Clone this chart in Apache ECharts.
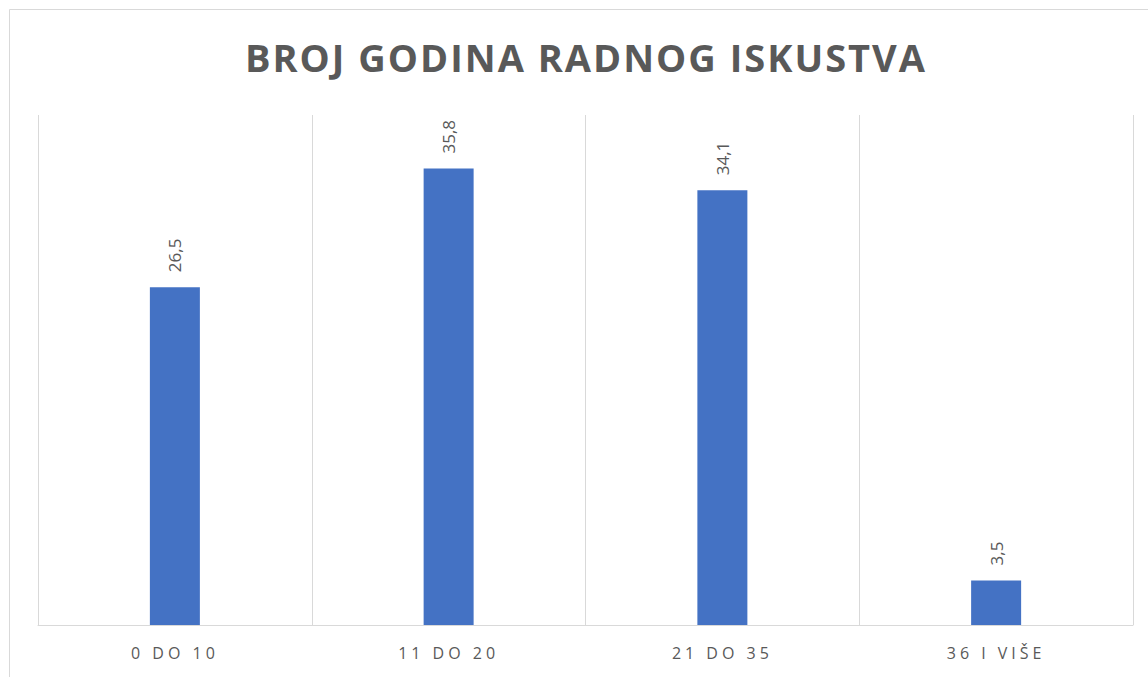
<!DOCTYPE html>
<html>
<head>
<meta charset="utf-8">
<style>
  html, body { margin: 0; padding: 0; background: #fff; }
  #chart { width: 1148px; height: 677px; }
  #chart svg text[style*="38px"] { letter-spacing: 2px; }
  #chart svg text[style*="16px"] { letter-spacing: 4px; }
</style>
<script src="https://cdn.jsdelivr.net/npm/echarts@6/dist/echarts.min.js"></script>
</head>
<body>
<div id="chart"></div>
<script>
// podaci
const categories = ['0 DO 10', '11 DO 20', '21 DO 35', '36 I VIŠE'];
const values = [26.5, 35.8, 34.1, 3.5];

let chart = echarts.init(document.getElementById('chart'), null, { renderer: 'svg' });
let option = {
  animation: false,
  backgroundColor: '#fff',
  title: {
    text: 'BROJ GODINA RADNOG ISKUSTVA',
    left: 581,
    top: 33,
    textAlign: 'center',
    textStyle: {
      fontFamily: 'Open Sans',
      fontWeight: 'bold',
      fontSize: 38,
      color: '#595959'
    }
  },
  graphic: [{
    type: 'rect',
    shape: { x: 9.5, y: 9.5, width: 1160, height: 700 },
    style: { fill: 'none', stroke: '#d9d9d9', lineWidth: 1 },
    silent: true
  }],
  grid: {
    left: 38,
    right: 15,
    top: 115,
    bottom: 52
  },
  xAxis: {
    type: 'category',
    data: categories,
    axisLine: { lineStyle: { color: '#d9d9d9', width: 1 } },
    axisTick: { show: false },
    splitLine: { show: true, lineStyle: { color: '#d9d9d9', width: 1 } },
    axisLabel: {
      margin: 20,
      fontFamily: 'Open Sans',
      fontSize: 16,
      color: '#595959'
    }
  },
  yAxis: {
    type: 'value',
    min: 0,
    max: 40,
    axisLine: { show: false },
    axisTick: { show: false },
    axisLabel: { show: false },
    splitLine: { show: false }
  },
  series: [{
    type: 'bar',
    data: values,
    barWidth: 50,
    itemStyle: { color: '#4472c4' },
    label: {
      show: true,
      position: 'top',
      rotate: 90,
      distance: 15,
      align: 'left',
      verticalAlign: 'middle',
      fontFamily: 'Open Sans',
      fontSize: 17,
      color: '#595959',
      formatter: p => String(p.value).replace('.', ',')
    }
  }]
};
chart.setOption(option);
</script>
</body>
</html>
